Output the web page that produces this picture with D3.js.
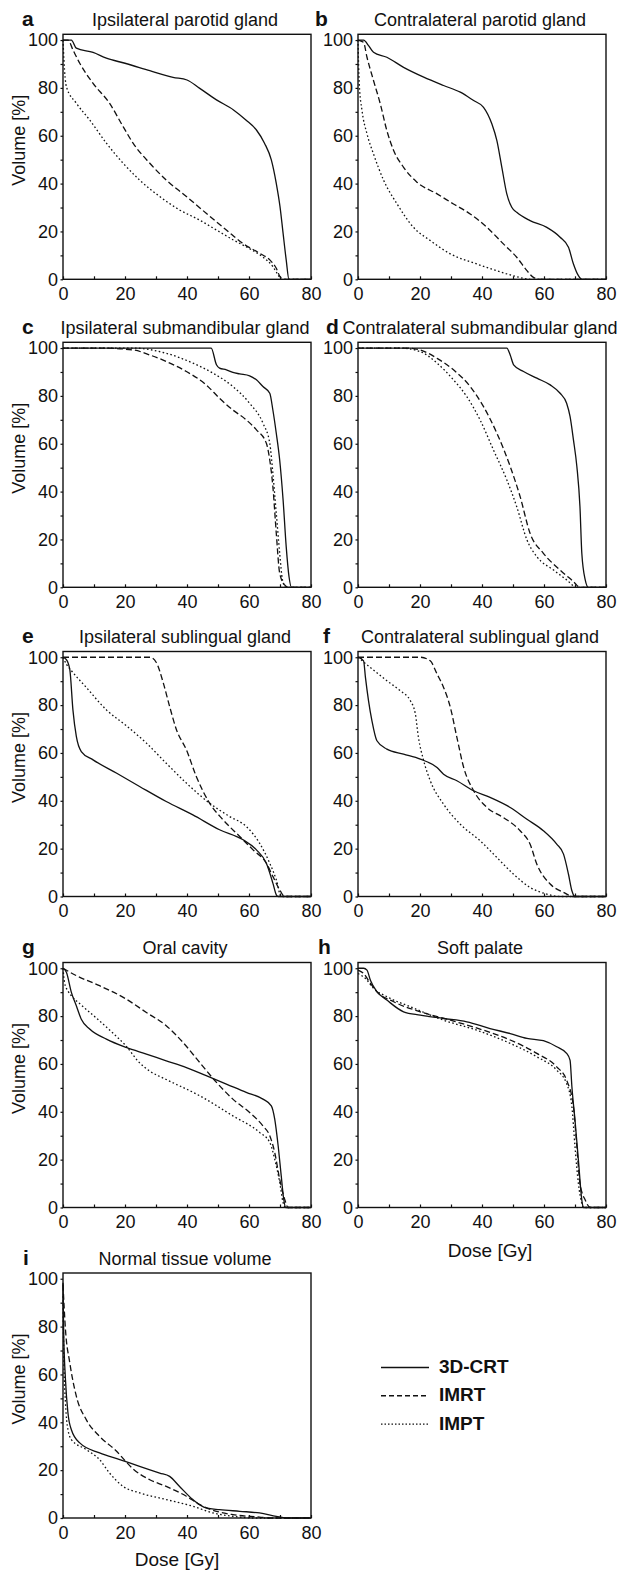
<!DOCTYPE html>
<meta charset="utf-8">
<script src="https://d3js.org/d3.v7.min.js"></script>
<style>
  body { margin: 0; background: #fff; }
  svg text { font-family: "Liberation Sans", Arial, sans-serif; fill: #111; }
</style>
<div id="chart"></div>
<script>

// panel letters and titles
const letters = ["a", "b", "c", "d", "e", "f", "g", "h", "i"];
const titles = [
  "Ipsilateral parotid gland", "Contralateral parotid gland",
  "Ipsilateral submandibular gland", "Contralateral submandibular gland",
  "Ipsilateral sublingual gland", "Contralateral sublingual gland",
  "Oral cavity", "Soft palate",
  "Normal tissue volume"
];
const seriesNames = ["3D-CRT", "IMRT", "IMPT"];
const xTicks = [0, 10, 20, 30, 40, 50, 60, 70, 80];
const yTicks = [0, 10, 20, 30, 40, 50, 60, 70, 80, 90, 100];

// DVH curves: [dose Gy, volume %]
const ipsiParotidCRT = [[0,100],[2.7,100],[4.3,96.6],[9.7,94.8],[14,92.4],[20,90.3],[28,87.2],[35.5,84.4],[40,83.3],[44,79.9],[49.5,75],[55,70.8],[59,66.6],[62.4,62.4],[65,56.9],[67.2,49.9],[68.8,40.1],[70,30.4],[71,19.2],[72,8.1],[72.9,0],[80,0]];
const ipsiParotidIMRT = [[0,100],[1.6,100],[3.2,95.9],[5.4,90.3],[9.7,81.9],[15,73.6],[19.4,63.8],[22.6,56.9],[28,48.5],[33.3,41.5],[39.8,34.6],[46.2,27.6],[52.7,20.6],[58,15],[63.4,10.9],[66.7,8.1],[68.8,4.6],[70,1.1],[71,0],[80,0]];
const ipsiParotidIMPT = [[0,100],[0.3,91.7],[1.1,80.5],[4.3,73.6],[8.6,66.6],[14,56.9],[19.4,48.5],[24.7,41.5],[31.2,34.6],[37.6,29],[44,24.8],[49.5,20.6],[55,16.4],[60.2,12.8],[64.5,9.3],[67.7,5.3],[69.4,1.8],[70.4,0],[80,0]];

const contraParotidCRT = [[0,100],[1.8,100],[3.4,97.7],[5,94.9],[9.3,92.8],[14.7,88.6],[21.2,84.5],[27.6,81],[33,78.2],[37.3,74.7],[40.5,71.9],[43.2,64.9],[44.8,58],[46.4,46.8],[48,35.7],[49.6,30.1],[51.2,28],[55.5,24.5],[60.9,21.7],[65.2,17.6],[67.9,13.4],[69.5,6.4],[71.1,1.5],[72.2,0],[80,0]];
const contraParotidIMRT = [[0,100],[1.8,99],[2.9,92.8],[5,83.1],[7.2,73.3],[9.3,62.2],[11.5,53.8],[14.7,46.8],[19,40.6],[25.5,35.7],[30.8,31.5],[36.2,27.3],[41.6,21.7],[46.9,14.8],[51.2,9.2],[54.5,3.6],[56.6,0.8],[58.8,0],[80,0]];
const contraParotidIMPT = [[0,100],[0.4,81.7],[1.3,70.5],[2.9,60.8],[5,52.4],[8.3,41.3],[12.6,31.5],[17.9,21.7],[23.3,16.2],[29.8,10.6],[38.3,6.4],[44.8,3.6],[51.2,1.1],[55.5,0],[80,0]];

const ipsiSubmandCRT = [[0,100],[47.8,100],[49.5,93],[50.5,91.6],[52.7,90.9],[54.8,89.8],[57,89.2],[60.2,88.4],[62.4,86.7],[64.5,83.9],[66.7,81.1],[67.7,74.1],[68.8,64.4],[69.9,53.2],[71,36.5],[72,17],[72.9,4.5],[73.7,0],[80,0]];
const ipsiSubmandIMRT = [[0,100],[11.8,100],[22.6,99.2],[28,97.1],[33.3,94.4],[39.8,90.2],[46.2,84.6],[50.5,79],[54.8,74.1],[59.1,70],[62.4,65.8],[65.6,60.2],[66.7,53.2],[67.7,42.1],[68.8,22.6],[69.9,5.9],[71.5,1],[72.6,0],[80,0]];
const ipsiSubmandIMPT = [[0,100],[22.6,100],[33.3,97.8],[41.9,93.7],[48.4,89.5],[54.8,83.9],[60.2,76.9],[64.5,68.6],[66.7,60.2],[67.7,47.7],[68.8,30.9],[69.9,14.2],[70.8,3.1],[71.8,0],[80,0]];

const contraSubmandCRT = [[0,100],[48,100],[49.1,97.1],[50.2,93],[53.4,90.2],[57.7,87.4],[62,84.6],[65.2,81.1],[67.3,76.9],[68.4,71.4],[69.5,61.6],[70.6,50.5],[71.6,33.7],[72.2,14.2],[73.3,3.1],[74.3,0],[80,0]];
const contraSubmandIMRT = [[0,100],[15.8,100],[20.1,99.2],[25.5,95.7],[30.8,90.9],[36.2,83.9],[40.5,75.5],[44.8,64.4],[49.1,50.5],[52.3,37.9],[55.5,22.6],[59.8,14.2],[65.2,7.2],[69.5,2.4],[71.6,0],[80,0]];
const contraSubmandIMPT = [[0,100],[13.6,100],[20.1,98.5],[25.5,93.7],[30.8,86.7],[35.1,79.7],[39.4,69.9],[43.7,57.4],[48,44.9],[51.2,33.7],[54.5,19.8],[57.7,12.8],[63.1,7.2],[67.3,3.1],[70.6,0],[80,0]];

const ipsiSublingCRT = [[0,100],[1.1,99],[2.2,94.8],[3.2,78],[4.3,66.9],[5.9,60.6],[9.7,57.1],[17.2,51.6],[24.7,46],[33.3,39.7],[41.9,34.1],[50.5,27.9],[58.1,23.7],[62.4,19.5],[65.6,13.9],[67.7,5.6],[68.8,0.7],[69.4,0],[80,0]];
const ipsiSublingIMRT = [[0,100],[28,100],[30.1,97.8],[32.3,89.5],[34.4,79.4],[36.6,69.7],[39.8,61.3],[43,50.2],[47.3,39],[51.6,32.1],[57,25.1],[61.3,19.5],[65.6,13.9],[67.7,8.4],[69.9,2.8],[71.5,0],[80,0]];
const ipsiSublingIMPT = [[0,100],[1.1,97.1],[2.7,94.4],[7.5,87.4],[14,78],[20.4,71.4],[26.9,64.1],[33.3,55.7],[39.8,47.4],[47.3,39],[53.8,33.4],[59.1,29.3],[63.4,22.3],[66.7,13.9],[68.8,7],[70.4,0],[80,0]];

const contraSublingCRT = [[0,100],[1.8,98.5],[2.4,91.6],[3.4,81.8],[4.5,73.4],[6.1,65.1],[9.3,61.6],[14.7,59.5],[20.1,57.4],[25.5,53.9],[27.6,51.1],[31.9,48.4],[37.3,44.2],[42.6,41.4],[49.1,37.2],[54.5,32.3],[59.8,27.5],[64.1,21.9],[66.3,17.7],[67.9,9.3],[69,2.4],[70,0],[80,0]];
const contraSublingIMRT = [[0,100],[20.1,100],[23.3,98.5],[25.5,93],[27.6,87.4],[29.8,79],[31.9,66.5],[34.1,53.9],[37.3,44.2],[41.6,37.2],[46.9,33],[52.3,27.5],[55.5,21.9],[57.7,13.5],[62,5.2],[66.3,1.7],[69.5,0],[80,0]];
const contraSublingIMPT = [[0,100],[4,95.7],[9.3,90.2],[13.6,86],[16.9,81.8],[18.5,76.3],[19.5,66.5],[21.2,56.7],[23.3,48.4],[27.6,38.6],[33,30.2],[39.4,23.3],[44.8,16.3],[50.2,9.3],[55.5,3.8],[60.9,1],[65.2,0],[80,0]];

const oralCavityCRT = [[0,100],[1.1,98.3],[2.7,89.9],[4.3,84.3],[5.9,78.7],[8.6,74.6],[14,70.4],[20.4,66.9],[26.9,64.1],[33.3,61.3],[39.8,58.5],[46.2,55.1],[52.7,51.6],[59.1,48.1],[64.5,45.3],[67.2,42.5],[68.3,36.9],[69.4,25.8],[70.4,13.2],[71.2,3.5],[71.8,0],[80,0]];
const oralCavityIMRT = [[0,100],[4.3,96.9],[11.8,92.7],[20.4,87.1],[26.9,81.5],[33.3,76],[38.7,69],[44.1,60.6],[49.5,52.3],[54.8,45.3],[60.2,39.7],[64.5,34.1],[66.7,30],[68.3,23],[69.9,11.8],[71.5,3.5],[72.6,0],[80,0]];
const oralCavityIMPT = [[0,100],[0.5,94],[1.6,90.5],[2.7,88.5],[6,84.5],[11.8,78],[16,73],[20,68],[24.7,60.5],[28,57],[33.3,53.5],[44.1,46.7],[54.8,38.3],[63.4,31.4],[66.7,27.2],[68.3,20.2],[69.9,10.5],[71,2.1],[71.8,0],[80,0]];

const softPalateCRT = [[0,100],[1.8,100],[2.9,99.2],[4,95],[6.1,90.2],[9.3,86.7],[14.7,81.8],[20.1,80.4],[27.6,79],[35.1,77.6],[42.6,74.8],[49.1,72.7],[54.5,70.7],[59.8,69.7],[64.1,67.2],[67.3,64.4],[68.4,61.6],[69,50.5],[70,36.5],[71.1,19.8],[72.2,3.1],[72.7,0],[80,0]];
const softPalateIMRT = [[0,99.2],[1.8,97.8],[4,93.7],[6.1,90.2],[11.5,86],[20.1,81.8],[29.8,78.3],[40.5,74.1],[49.1,70],[57.7,64.4],[64.1,58.8],[67.3,53.2],[69.5,42.1],[70.6,25.4],[71.6,10],[73.3,3.1],[74.9,0],[80,0]];
const softPalateIMPT = [[0,97.8],[2.4,95.7],[5,91.6],[9.3,88.1],[16.9,83.9],[27.6,78.3],[38.3,74.1],[49.1,68.6],[57.7,63],[64.1,57.4],[67.3,51.8],[69,42.1],[70,25.4],[71.1,10],[72.2,1.7],[72.7,0],[80,0]];

const normalTissueCRT = [[0,98.3],[0.2,78.7],[0.8,57.8],[1.6,43.9],[2.7,36.9],[5.4,31.4],[11.8,27.2],[18.3,24.4],[24.7,21.6],[31.2,18.8],[34.4,17.4],[37.6,13.2],[41.9,7.7],[46.2,4.2],[50.5,3.5],[57,2.8],[63.4,2.1],[68.8,0.7],[72,0],[80,0]];
const normalTissueIMRT = [[0,97.6],[0.8,78.7],[2.2,64.8],[4.3,50.9],[7.5,41.1],[11.8,34.1],[17.2,28],[20,24],[22.6,20.5],[28,16],[33.3,13.2],[39.8,9.1],[44.1,5.6],[49.5,2.8],[54.8,1.4],[63.4,0.4],[66.7,0],[80,0]];
const normalTissueIMPT = [[0,92.7],[0.3,64.8],[0.8,48.1],[1.6,36.9],[2.7,32.8],[7.5,28.6],[11.8,24.4],[15,18.8],[19.4,13.2],[24.7,10.5],[33.3,7.7],[41.9,4.9],[48.4,2.1],[54.8,0.7],[61.3,0],[80,0]];

const panels = [
  [ipsiParotidCRT, ipsiParotidIMRT, ipsiParotidIMPT],
  [contraParotidCRT, contraParotidIMRT, contraParotidIMPT],
  [ipsiSubmandCRT, ipsiSubmandIMRT, ipsiSubmandIMPT],
  [contraSubmandCRT, contraSubmandIMRT, contraSubmandIMPT],
  [ipsiSublingCRT, ipsiSublingIMRT, ipsiSublingIMPT],
  [contraSublingCRT, contraSublingIMRT, contraSublingIMPT],
  [oralCavityCRT, oralCavityIMRT, oralCavityIMPT],
  [softPalateCRT, softPalateIMRT, softPalateIMPT],
  [normalTissueCRT, normalTissueIMRT, normalTissueIMPT]
];

// layout
const W = 620, H = 1570;
const colLeft = [63, 358];
const rowBottom = [279.3, 587.3, 896.5, 1207.5, 1518];
const plotW = 248, plotH = 245;
const letterX = [22, 315, 22, 326, 22, 323, 22, 318, 23];
const dashes = [null, "6,3", "1.6,2.4"];

const svg = d3.select("#chart")
  .append("svg")
    .attr("width", W)
    .attr("height", H);

const x = d3.scaleLinear().domain([0, 80]).range([0, plotW]);
const y = d3.scaleLinear().domain([0, 102.4]).range([plotH, 0]);

const line = d3.line()
  .x(d => x(d[0]))
  .y(d => y(d[1]))
  .curve(d3.curveMonotoneX);

panels.forEach((curves, i) => {
  const col = i % 2, row = Math.floor(i / 2);
  const left = colLeft[col], top = rowBottom[row] - plotH;
  const g = svg.append("g").attr("transform", `translate(${left},${top})`);

  // x axis, ticks inside
  g.append("g")
    .attr("transform", `translate(0,${plotH})`)
    .call(d3.axisBottom(x).tickValues(xTicks).tickSizeInner(-3).tickSizeOuter(0)
      .tickPadding(8).tickFormat(d => d % 20 === 0 ? d : ""))
    .call(a => a.select(".domain").remove())
    .call(a => a.selectAll("line").attr("stroke", "#111").attr("stroke-width", 1.2))
    .call(a => a.selectAll("text").attr("font-size", 18).attr("font-family", null).attr("fill", "#111"));

  // y axis, ticks outside
  g.append("g")
    .call(d3.axisLeft(y).tickValues(yTicks).tickSizeInner(2.5).tickSizeOuter(0)
      .tickPadding(2.5).tickFormat(d => d % 20 === 0 ? d : ""))
    .call(a => a.select(".domain").remove())
    .call(a => a.selectAll("line").attr("stroke", "#111").attr("stroke-width", 1.2))
    .call(a => a.selectAll("text").attr("font-size", 18).attr("font-family", null).attr("fill", "#111"));

  // curves
  curves.forEach((c, k) => {
    g.append("path")
      .datum(c)
      .attr("d", line)
      .attr("fill", "none")
      .attr("stroke", "#111")
      .attr("stroke-width", 1.3)
      .attr("stroke-dasharray", dashes[k]);
  });

  // frame
  g.append("rect")
    .attr("width", plotW)
    .attr("height", plotH)
    .attr("fill", "none")
    .attr("stroke", "#111")
    .attr("stroke-width", 1.4);

  // title + letter
  g.append("text")
    .attr("x", plotW / 2 - 2)
    .attr("y", -8.5)
    .attr("text-anchor", "middle")
    .attr("font-size", 18)
    .text(titles[i]);
  svg.append("text")
    .attr("x", letterX[i])
    .attr("y", top - 8.5)
    .attr("font-size", 21)
    .attr("font-weight", "bold")
    .text(letters[i]);

  if (col === 0) {
    g.append("text")
      .attr("transform", `translate(-38,${plotH - 139}) rotate(-90)`)
      .attr("text-anchor", "middle")
      .attr("font-size", 18)
      .text("Volume [%]");
  }
});

// x titles under the last row of each column
svg.append("text")
  .attr("x", 490).attr("y", rowBottom[3] + 49.5)
  .attr("text-anchor", "middle").attr("font-size", 19)
  .text("Dose [Gy]");
svg.append("text")
  .attr("x", 177).attr("y", rowBottom[4] + 48)
  .attr("text-anchor", "middle").attr("font-size", 19)
  .text("Dose [Gy]");

// legend
const legendDash = [null, "5,3", "1.5,2"];
const legend = svg.append("g").attr("transform", "translate(381,1367.5)");
seriesNames.forEach((name, k) => {
  legend.append("line")
    .attr("x1", 0).attr("x2", 48)
    .attr("y1", k * 28.3).attr("y2", k * 28.3)
    .attr("stroke", "#111")
    .attr("stroke-width", 1.4)
    .attr("stroke-dasharray", legendDash[k]);
  legend.append("text")
    .attr("x", 58)
    .attr("y", k * 28.3 + 5.5)
    .attr("font-size", 19)
    .attr("font-weight", "bold")
    .text(name);
});

</script>
